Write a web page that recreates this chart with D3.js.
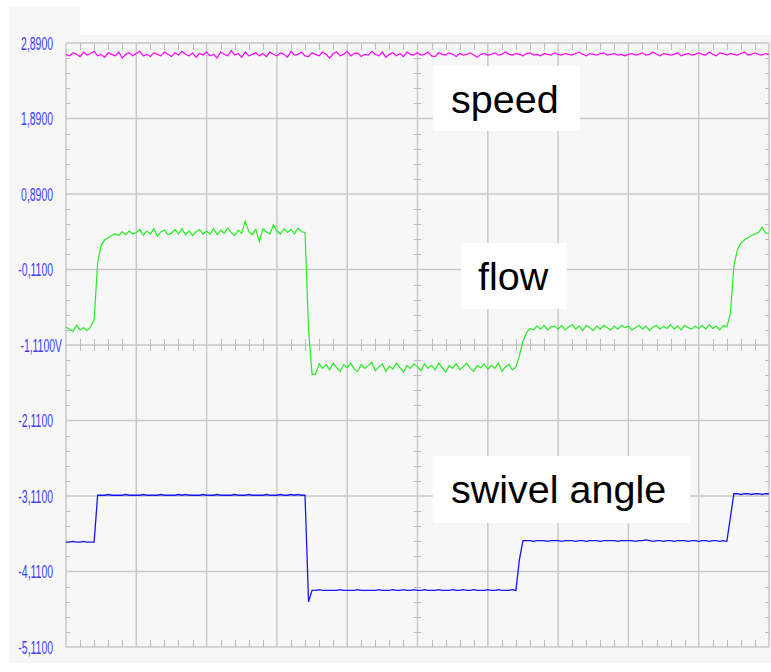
<!DOCTYPE html>
<html>
<head>
<meta charset="utf-8">
<title>speed / flow / swivel angle</title>
<script src="https://cdnjs.cloudflare.com/ajax/libs/d3/7.8.5/d3.min.js"></script>
<style>
  html, body { margin: 0; padding: 0; background: #fff; }
  svg { display: block; }
</style>
</head>
<body>
<svg width="771" height="672"></svg>
<script>
// one sample every 0.05 division, 10 divisions across
var step = 0.05;

var speed = [
  2.74, 2.72, 2.76, 2.74, 2.71, 2.77, 2.73, 2.75, 2.78, 2.72, 2.74, 2.70, 2.76, 2.74, 2.72, 2.77, 2.69, 2.74, 2.76, 2.72,
  2.75, 2.78, 2.72, 2.74, 2.71, 2.76, 2.74, 2.72, 2.77, 2.74, 2.71, 2.76, 2.73, 2.78, 2.74, 2.72, 2.76, 2.70, 2.75, 2.73,
  2.77, 2.72, 2.74, 2.69, 2.77, 2.74, 2.72, 2.79, 2.73, 2.75, 2.70, 2.77, 2.72, 2.74, 2.76, 2.72, 2.75, 2.71, 2.77, 2.74,
  2.72, 2.76, 2.74, 2.70, 2.78, 2.73, 2.74, 2.77, 2.72, 2.71, 2.76, 2.74, 2.72, 2.77, 2.74, 2.69, 2.75, 2.77, 2.72, 2.74,
  2.78, 2.72, 2.75, 2.76, 2.71, 2.74, 2.73, 2.78, 2.74, 2.72, 2.77, 2.70, 2.74, 2.76, 2.72, 2.75, 2.71, 2.77, 2.74, 2.73,
  2.76, 2.73, 2.74, 2.77, 2.72, 2.71, 2.76, 2.74, 2.73, 2.76, 2.74, 2.71, 2.75, 2.73, 2.74, 2.76, 2.73, 2.70, 2.74, 2.75,
  2.73, 2.74, 2.76, 2.73, 2.74, 2.77, 2.74, 2.73, 2.75, 2.74, 2.72, 2.75, 2.76, 2.73, 2.74, 2.72, 2.75, 2.74, 2.73, 2.76,
  2.74, 2.73, 2.75, 2.74, 2.73, 2.75, 2.77, 2.74, 2.72, 2.75, 2.74, 2.73, 2.75, 2.76, 2.73, 2.74, 2.75, 2.73, 2.74, 2.72,
  2.74, 2.75, 2.73, 2.74, 2.76, 2.73, 2.74, 2.77, 2.74, 2.72, 2.75, 2.74, 2.73, 2.74, 2.76, 2.72, 2.74, 2.75, 2.73, 2.74,
  2.76, 2.74, 2.73, 2.77, 2.74, 2.72, 2.76, 2.75, 2.73, 2.75, 2.74, 2.73, 2.75, 2.77, 2.73, 2.74, 2.76, 2.74, 2.73, 2.75,
  2.74
];

var flow = [
  -0.87, -0.90, -0.93, -0.85, -0.91, -0.88, -0.92, -0.87, -0.78, -0.02, 0.21, 0.28, 0.31, 0.34, 0.36, 0.34, 0.39, 0.35, 0.40, 0.36,
  0.38, 0.42, 0.34, 0.40, 0.36, 0.43, 0.33, 0.39, 0.41, 0.35, 0.37, 0.42, 0.36, 0.43, 0.35, 0.40, 0.34, 0.39, 0.42, 0.36,
  0.40, 0.36, 0.43, 0.35, 0.41, 0.37, 0.44, 0.38, 0.34, 0.41, 0.37, 0.53, 0.39, 0.35, 0.42, 0.26, 0.43, 0.39, 0.36, 0.48,
  0.40, 0.36, 0.43, 0.38, 0.42, 0.36, 0.44, 0.39, 0.38, -0.90, -1.50, -1.50, -1.36, -1.42, -1.37, -1.44, -1.35, -1.41, -1.46, -1.37,
  -1.41, -1.35, -1.43, -1.46, -1.37, -1.42, -1.38, -1.34, -1.45, -1.40, -1.36, -1.46, -1.39, -1.43, -1.35, -1.41, -1.47, -1.38, -1.42, -1.36,
  -1.40, -1.45, -1.36, -1.42, -1.38, -1.44, -1.35, -1.41, -1.47, -1.38, -1.42, -1.36, -1.44, -1.40, -1.35, -1.42, -1.46, -1.38, -1.41, -1.36,
  -1.43, -1.38, -1.42, -1.35, -1.46, -1.40, -1.37, -1.44, -1.40, -1.25, -1.06, -0.95, -0.89, -0.91, -0.86, -0.90, -0.85, -0.91, -0.87, -0.86,
  -0.90, -0.85, -0.91, -0.87, -0.84, -0.90, -0.86, -0.92, -0.85, -0.88, -0.92, -0.86, -0.90, -0.85, -0.88, -0.91, -0.86, -0.90, -0.85, -0.88,
  -0.86, -0.91, -0.88, -0.85, -0.90, -0.86, -0.92, -0.87, -0.85, -0.90, -0.86, -0.89, -0.84, -0.90, -0.86, -0.91, -0.85, -0.88, -0.90, -0.86,
  -0.89, -0.85, -0.90, -0.84, -0.89, -0.86, -0.91, -0.85, -0.87, -0.70, -0.07, 0.15, 0.24, 0.28, 0.31, 0.34, 0.36, 0.38, 0.45, 0.37,
  0.37
];

var swivel = [
  -3.72, -3.72, -3.71, -3.72, -3.72, -3.71, -3.72, -3.72, -3.72, -3.10, -3.10, -3.10, -3.09, -3.10, -3.10, -3.10, -3.10, -3.09, -3.10, -3.10,
  -3.10, -3.10, -3.09, -3.10, -3.10, -3.10, -3.10, -3.09, -3.10, -3.10, -3.10, -3.10, -3.09, -3.10, -3.09, -3.10, -3.10, -3.10, -3.10, -3.09,
  -3.10, -3.10, -3.10, -3.09, -3.10, -3.10, -3.10, -3.10, -3.09, -3.10, -3.10, -3.10, -3.09, -3.10, -3.10, -3.10, -3.10, -3.09, -3.10, -3.10,
  -3.10, -3.09, -3.10, -3.10, -3.09, -3.10, -3.09, -3.10, -3.10, -4.51, -4.36, -4.36, -4.35, -4.36, -4.36, -4.36, -4.36, -4.36, -4.35, -4.36,
  -4.36, -4.36, -4.36, -4.35, -4.36, -4.36, -4.36, -4.36, -4.36, -4.35, -4.36, -4.36, -4.36, -4.35, -4.36, -4.36, -4.35, -4.36, -4.36, -4.35,
  -4.36, -4.36, -4.35, -4.36, -4.36, -4.36, -4.35, -4.36, -4.36, -4.36, -4.35, -4.36, -4.36, -4.35, -4.36, -4.36, -4.35, -4.36, -4.36, -4.36,
  -4.35, -4.36, -4.36, -4.35, -4.36, -4.36, -4.36, -4.35, -4.36, -3.95, -3.70, -3.70, -3.70, -3.71, -3.70, -3.70, -3.70, -3.71, -3.70, -3.70,
  -3.70, -3.71, -3.70, -3.70, -3.70, -3.71, -3.70, -3.70, -3.71, -3.70, -3.70, -3.70, -3.71, -3.70, -3.70, -3.70, -3.70, -3.71, -3.70, -3.70,
  -3.70, -3.70, -3.71, -3.70, -3.70, -3.69, -3.70, -3.71, -3.70, -3.70, -3.71, -3.70, -3.70, -3.71, -3.70, -3.70, -3.70, -3.71, -3.70, -3.70,
  -3.71, -3.70, -3.70, -3.71, -3.70, -3.70, -3.71, -3.70, -3.71, -3.40, -3.08, -3.08, -3.09, -3.08, -3.08, -3.09, -3.08, -3.08, -3.09, -3.08,
  -3.08
];

var yTicks = [2.89, 1.89, 0.89, -0.11, -1.11, -2.11, -3.11, -4.11, -5.11];
var xTicks = [0, 1, 2, 3, 4, 5, 6, 7, 8, 9, 10];
var labels = ["speed", "flow", "swivel angle"];
var unitTick = -1.11;   // the zero line of the scope, carries the "V"
var centerX = 5;

var svg = d3.select("svg");

var x = d3.scaleLinear().domain([0, 10]).range([66, 769]);
var y = d3.scaleLinear().domain([-5.11, 2.89]).range([647, 43]);

// panel background with the white notch at the top right
svg.append("path")
  .attr("d", "M9,7H80V35H771V663H9Z")
  .attr("fill", "#f7f7f7");

// grid
var grid = svg.append("g").attr("stroke", "#c9c9c9").attr("stroke-width", 1.5);
grid.selectAll(".h").data(yTicks).enter().append("line")
  .attr("x1", x(0)).attr("x2", x(10))
  .attr("y1", function (d) { return y(d); })
  .attr("y2", function (d) { return y(d); });
grid.selectAll(".v").data(xTicks).enter().append("line")
  .attr("y1", y(2.89)).attr("y2", y(-5.11))
  .attr("x1", function (d) { return x(d); })
  .attr("x2", function (d) { return x(d); });

// minor ticks, five per division
var minorX = d3.range(51).map(function (i) { return i * 0.2; })
  .filter(function (v) { return Math.abs(v - Math.round(v)) > 1e-6; });
var minorY = d3.range(41).map(function (i) { return -5.11 + i * 0.2; })
  .filter(function (v) { return Math.abs((v + 0.11) - Math.round(v + 0.11)) > 1e-6; });

var ticks = svg.append("g").attr("stroke", "#bdbdbd").attr("stroke-width", 1);
function vTicks(yy, up, down) {
  ticks.append("g").selectAll("line").data(minorX).enter().append("line")
    .attr("x1", function (d) { return Math.round(x(d)) + 0.5; })
    .attr("x2", function (d) { return Math.round(x(d)) + 0.5; })
    .attr("y1", yy - up).attr("y2", yy + down);
}
function hTicks(xx, left, right) {
  ticks.append("g").selectAll("line").data(minorY).enter().append("line")
    .attr("y1", function (d) { return Math.round(y(d)) + 0.5; })
    .attr("y2", function (d) { return Math.round(y(d)) + 0.5; })
    .attr("x1", xx - left).attr("x2", xx + right);
}
vTicks(y(2.89), 0, 7);
vTicks(y(-5.11), 7, 0);
vTicks(y(unitTick), 6, 6);
hTicks(x(0), 0, 4);
hTicks(x(10), 4, 0);
hTicks(x(centerX), 4, 4);

// y axis labels, narrow blue scope font
var loc = d3.formatLocale({ decimal: ",", thousands: ".", grouping: [3], currency: ["", ""], minus: "-" });
var fmt = loc.format(".4f");
var yAxis = d3.axisLeft(y).tickValues(yTicks).tickSize(0).tickPadding(0)
  .tickFormat(function (d) { return fmt(d) + (d === unitTick ? "V" : ""); });
var ya = svg.append("g").attr("transform", "translate(53,0)").call(yAxis);
ya.select(".domain").remove();
ya.selectAll("text")
  .attr("fill", "#3c3cff")
  .attr("font-family", "'Liberation Sans', Arial, sans-serif")
  .attr("font-size", 18)
  .attr("dy", "0.36em")
  .attr("x", function (d) { return d === unitTick ? 9 : 0; })
  .each(function () {
    var w = this.getComputedTextLength();
    d3.select(this).attr("textLength", w * 0.58).attr("lengthAdjust", "spacingAndGlyphs");
  });

// traces
var line = d3.line()
  .x(function (d, i) { return x(i * step); })
  .y(function (d) { return y(d); });

svg.append("path").datum(speed).attr("d", line)
  .attr("fill", "none").attr("stroke", "#ff00ff").attr("stroke-width", 1.2);
svg.append("path").datum(flow).attr("d", line)
  .attr("fill", "none").attr("stroke", "#22ee22").attr("stroke-width", 1.2);
svg.append("path").datum(swivel).attr("d", line)
  .attr("fill", "none").attr("stroke", "#1414ff").attr("stroke-width", 1.3);

// annotation boxes
var boxes = [
  { x: 433, y: 66, w: 147, h: 65, tx: 451, ty: 113 },
  { x: 461, y: 243, w: 106, h: 66, tx: 478, ty: 290 },
  { x: 433, y: 456, w: 257, h: 67, tx: 451, ty: 503 }
];
labels.forEach(function (t, i) {
  var b = boxes[i];
  svg.append("rect").attr("x", b.x).attr("y", b.y).attr("width", b.w).attr("height", b.h).attr("fill", "#fff");
  svg.append("text").attr("x", b.tx).attr("y", b.ty)
    .attr("font-family", "'Liberation Sans', Arial, sans-serif")
    .attr("font-size", 39.5).attr("fill", "#000")
    .text(t);
});
</script>
</body>
</html>
